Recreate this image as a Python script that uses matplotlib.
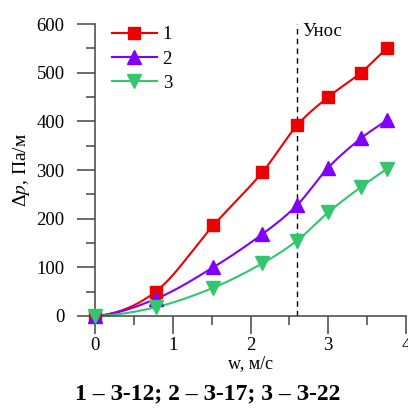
import numpy as np
import matplotlib
matplotlib.use('Agg')
import matplotlib.pyplot as plt
from matplotlib.ticker import MultipleLocator

plt.rcParams['font.family'] = ['Liberation Serif', 'DejaVu Serif']
plt.rcParams['mathtext.fontset'] = 'stix'

w = [0, 0.78, 1.52, 2.15, 2.6, 3.0, 3.42, 3.75]
dp1 = [0, 50, 186, 295, 392, 450, 500, 550]
dp2 = [0, 35, 100, 168, 228, 305, 365, 402]
dp3 = [0, 18, 58, 108, 155, 213, 265, 302]
labels = ['1', '2', '3']
w_unos = 2.6


def smooth(x, y, n=300):
    # cubic hermite line with central-difference tangents
    x = np.asarray(x, float)
    y = np.asarray(y, float)
    h = np.diff(x)
    d = np.diff(y) / h
    m = np.zeros(len(x))
    m[0] = d[0] * 0.2
    m[-1] = d[-1]
    m[1:-1] = (y[2:] - y[:-2]) / (x[2:] - x[:-2])
    xs = np.linspace(x[0], x[-1], n)
    j = np.clip(np.searchsorted(x, xs) - 1, 0, len(x) - 2)
    t = (xs - x[j]) / h[j]
    h00 = 2 * t ** 3 - 3 * t ** 2 + 1
    h10 = t ** 3 - 2 * t ** 2 + t
    h01 = -2 * t ** 3 + 3 * t ** 2
    h11 = t ** 3 - t ** 2
    ys = h00 * y[j] + h10 * h[j] * m[j] + h01 * y[j + 1] + h11 * h[j] * m[j + 1]
    return xs, ys


fig = plt.figure(figsize=(4.08, 4.08), dpi=100)
ax = fig.add_axes([0.233, 0.2255, 0.762, 0.7155])

styles = [('#ee0000', 's', 8), ('#8000ff', '^', 10), ('#33c66e', 'v', 10)]
for dp, lab, (c, mk, ms) in zip([dp1, dp2, dp3], labels, styles):
    xs, ys = smooth(w, dp)
    ax.plot(xs, ys, color=c, lw=1.5, clip_on=False)
    ax.plot(w, dp, ls='none', marker=mk, ms=ms, color=c, clip_on=False, zorder=3)
    ax.plot([], [], color=c, lw=1.5, marker=mk, ms=ms, label=lab)

ax.plot([w_unos, w_unos], [0, 600], color='black', lw=1, ls=(0, (4, 3)))
ax.text(2.67, 576, 'Унос', fontsize=13.5)

ax.set_xlim(0, 4)
ax.set_ylim(0, 600)
ax.xaxis.set_major_locator(MultipleLocator(1))
ax.xaxis.set_minor_locator(MultipleLocator(0.5))
ax.yaxis.set_major_locator(MultipleLocator(100))
ax.yaxis.set_minor_locator(MultipleLocator(50))
for s in ['top', 'right']:
    ax.spines[s].set_visible(False)
for s in ['left', 'bottom']:
    ax.spines[s].set_color('#444444')
    ax.spines[s].set_linewidth(1.1)
ax.tick_params(which='major', length=13, width=1.1, color='#444444', labelsize=13.5)
ax.tick_params(which='minor', length=6.5, width=1.1, color='#444444')
ax.tick_params(axis='y', which='major', pad=9)
ax.tick_params(axis='x', which='major', pad=2)

ax.set_xlabel('w, м/с', fontsize=13, labelpad=1)
ax.set_ylabel('Δ$p$, Па/м', fontsize=14, labelpad=3)

ax.legend(loc='upper left', bbox_to_anchor=(0.0, 1.05), frameon=False,
          fontsize=13.5, handlelength=2.4, labelspacing=0.38, handletextpad=0.3)

fig.text(0.508, 0.022, '1 – З-12; 2 – З-17; 3 – З-22', ha='center',
         fontsize=17, fontweight='bold')

fig.savefig('out.png', dpi=100)
